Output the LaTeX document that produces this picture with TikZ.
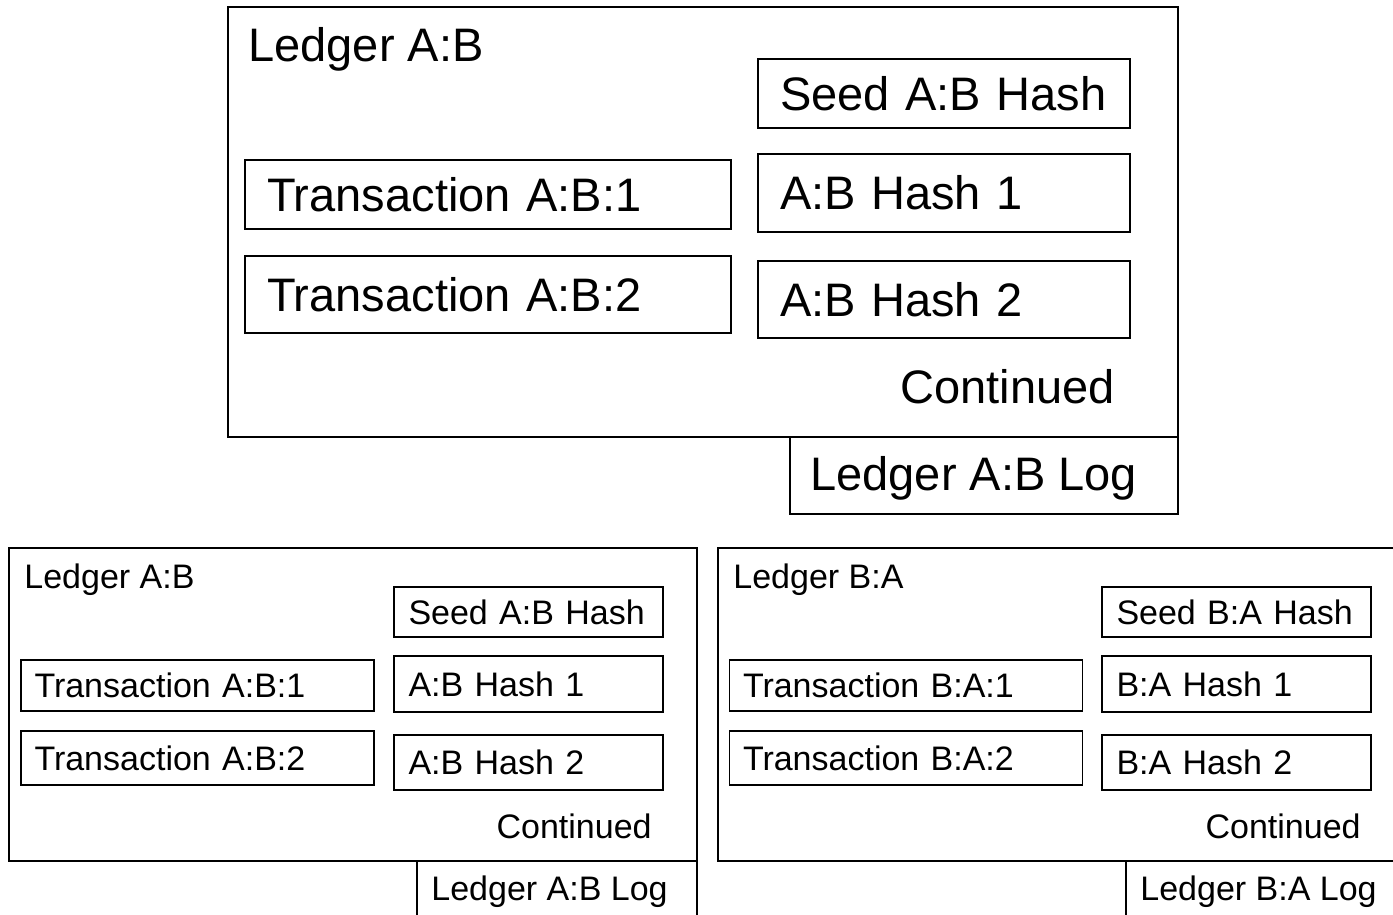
\documentclass[tikz,border=0pt]{standalone}
\usepackage{fontspec}
\setmainfont{Liberation Sans}
\begin{document}
\begin{tikzpicture}[x=0.5pt,y=-0.5pt,
  outerbox/.style={draw, line width=1pt, inner sep=0pt},
  bbox/.style={draw, line width=1pt, inner sep=0pt, font=\fontsize{23.5}{27}\selectfont},
  sbox/.style={draw, line width=0.8pt, inner sep=0pt, font=\fontsize{17}{20}\selectfont},
  btxt/.style={inner sep=0pt, font=\fontsize{23.5}{27}\selectfont},
  stxt/.style={inner sep=0pt, font=\fontsize{17}{20}\selectfont}]
\useasboundingbox (0,0) rectangle (1393,915);
\fill[white] (0,0) rectangle (1393,915);
\begin{scope}
\clip (0,0) rectangle (1393,915);
% ---------- top ledger ----------
\node[outerbox, minimum width=475pt, minimum height=215pt] (tOuter) at (703,222) {};
\node[outerbox, minimum width=194pt, minimum height=38.5pt] (tLog) at (984,475.5) {};
\node[btxt, anchor=west] (tLogT) at (810,478) {Ledger A:B Log};
\node[btxt, anchor=west] (tTitle) at (248,49) {Ledger A:B};
\node[bbox, minimum width=186pt, minimum height=34.5pt, text width=164pt, align=left] (tSeed) at (944,93.5) {\mbox{Seed A:B Hash}};
\node[bbox, minimum width=186pt, minimum height=39pt, text width=164pt, align=left] (tH1) at (944,193) {\mbox{A:B Hash 1}};
\node[bbox, minimum width=186pt, minimum height=38.5pt, text width=164pt, align=left] (tH2) at (944,299.5) {\raisebox{-3pt}{A:B Hash 2}};
\node[bbox, minimum width=243pt, minimum height=34.5pt, text width=221pt, align=left] (tT1) at (488,194.5) {\mbox{Transaction A:B:1}};
\node[bbox, minimum width=243pt, minimum height=38.5pt, text width=221pt, align=left] (tT2) at (488,294.5) {\mbox{Transaction A:B:2}};
\node[btxt, anchor=east] (tCont) at (1115,387) {Continued};
% ---------- bottom left ledger ----------
\node[outerbox, line width=0.8pt, minimum width=344pt, minimum height=156.5pt] (lOuter) at (353,704.5) {};
\draw[line width=0.8pt] (417,861) -- (417,930) (697,861) -- (697,930);
\node[stxt, anchor=west] (lLogT) at (431,892) {Ledger A:B Log};
\node[stxt, anchor=west] (lTitle) at (24,580) {Ledger A:B};
\node[sbox, minimum width=134.5pt, minimum height=25pt, text width=120pt, align=left] (lSeed) at (528.5,612) {\mbox{Seed A:B Hash}};
\node[sbox, minimum width=134.5pt, minimum height=28pt, text width=120pt, align=left] (lH1) at (528.5,684) {\mbox{A:B Hash 1}};
\node[sbox, minimum width=134.5pt, minimum height=27.5pt, text width=120pt, align=left] (lH2) at (528.5,762.5) {\raisebox{-2pt}{A:B Hash 2}};
\node[sbox, minimum width=176.5pt, minimum height=25.5pt, text width=163pt, align=left] (lT1) at (197.5,685.5) {\mbox{Transaction A:B:1}};
\node[sbox, minimum width=176.5pt, minimum height=27pt, text width=163pt, align=left] (lT2) at (197.5,758) {\mbox{Transaction A:B:2}};
\node[stxt, anchor=east] (lCont) at (652,826) {Continued};
% ---------- bottom right ledger ----------
\node[outerbox, line width=0.8pt, minimum width=344pt, minimum height=156.5pt] (rOuter) at (1062,704.5) {};
\draw[line width=0.8pt] (1126,861) -- (1126,930);
\node[stxt, anchor=west] (rLogT) at (1140,892) {Ledger B:A Log};
\node[stxt, anchor=west] (rTitle) at (733,580) {Ledger B:A};
\node[sbox, minimum width=134.5pt, minimum height=25pt, text width=120pt, align=left] (rSeed) at (1236.5,612) {\mbox{Seed B:A Hash}};
\node[sbox, minimum width=134.5pt, minimum height=28pt, text width=120pt, align=left] (rH1) at (1236.5,684) {\mbox{B:A Hash 1}};
\node[sbox, minimum width=134.5pt, minimum height=27.5pt, text width=120pt, align=left] (rH2) at (1236.5,762.5) {\raisebox{-2pt}{B:A Hash 2}};
\node[sbox, minimum width=176.5pt, minimum height=25.5pt, text width=163pt, align=left] (rT1) at (906,685.5) {\mbox{Transaction B:A:1}};
\node[sbox, minimum width=176.5pt, minimum height=27pt, text width=163pt, align=left] (rT2) at (906,758) {\mbox{Transaction B:A:2}};
\node[stxt, anchor=east] (rCont) at (1361,826) {Continued};
\end{scope}
\end{tikzpicture}
\end{document}
